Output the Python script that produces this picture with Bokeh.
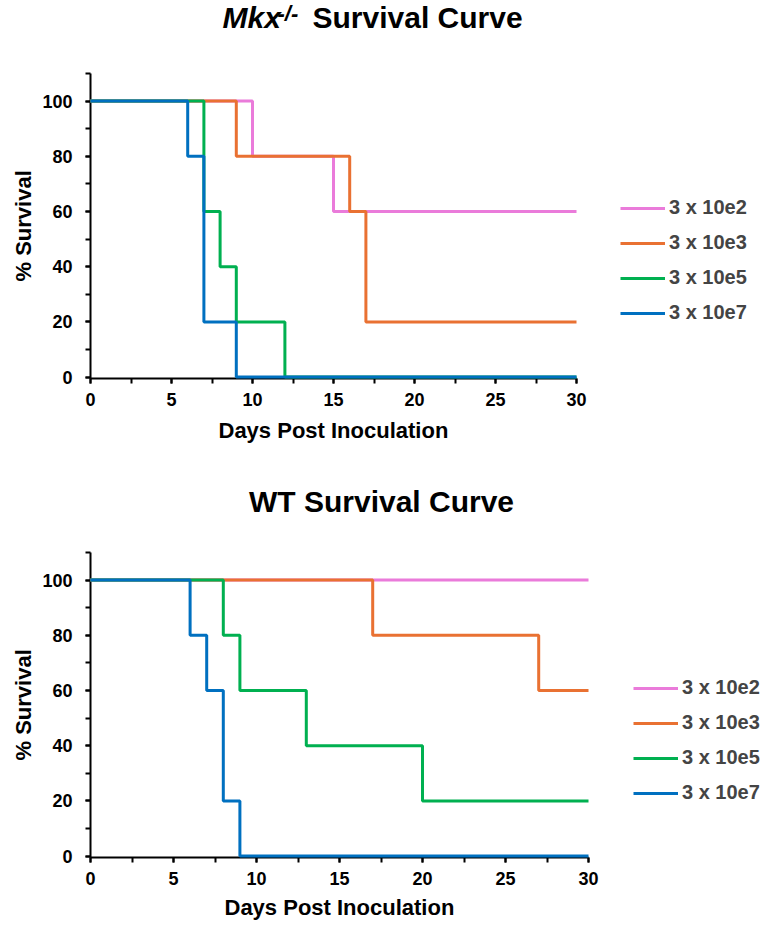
from bokeh.plotting import figure
from bokeh.models import Range1d, SingleIntervalTicker, Legend, LegendItem, Label, Title
from bokeh.layouts import column
from bokeh.embed import file_html
from bokeh.resources import INLINE

series_labels = ["3 x 10e2", "3 x 10e3", "3 x 10e5", "3 x 10e7"]
series_colors = ["#EA7BDA", "#E97132", "#00B050", "#0070C0"]

# Mkx-/- survival (step values hold from each day until the next)
mkx_e2_days = [0, 10, 15, 30]
mkx_e2_surv = [100, 80, 60, 60]
mkx_e3_days = [0, 9, 16, 17, 30]
mkx_e3_surv = [100, 80, 60, 20, 20]
mkx_e5_days = [0, 7, 8, 9, 12, 30]
mkx_e5_surv = [100, 60, 40, 20, 0, 0]
mkx_e7_days = [0, 6, 7, 9, 30]
mkx_e7_surv = [100, 80, 20, 0, 0]

# WT survival
wt_e2_days = [0, 30]
wt_e2_surv = [100, 100]
wt_e3_days = [0, 17, 27, 30]
wt_e3_surv = [100, 80, 60, 60]
wt_e5_days = [0, 8, 9, 13, 20, 30]
wt_e5_surv = [100, 80, 60, 40, 20, 20]
wt_e7_days = [0, 6, 7, 8, 9, 30]
wt_e7_surv = [100, 80, 60, 20, 0, 0]

x_ticks_major = 5
y_ticks_major = 20
x_max = 30
y_max = 110
x_label = "Days Post Inoculation"
y_label = "% Survival"

FONT = "Liberation Sans"
W = 761
LEFT = 90
PLOT_H = 305
Y_LO = -0.5


def make_fig(height, top, px30, days, survs, legend_loc, xlab_offset, xlab_standoff):
    frame_w = W - LEFT
    k = PLOT_H / (y_max - Y_LO)
    fig = figure(width=W, height=height, output_backend="svg", toolbar_location=None,
                 min_border_left=LEFT, min_border_right=0, min_border_top=0,
                 min_border_bottom=height - top - PLOT_H,
                 x_range=Range1d(0, x_max * frame_w / px30),
                 y_range=Range1d(Y_LO, y_max + top / k))
    fig.outline_line_color = None
    fig.grid.visible = False
    rends = []
    for d, s, c in zip(days, survs, series_colors):
        r = fig.step(d, s, mode="after", line_color=c, line_width=3)
        r.level = "overlay"
        rends.append(r)
    for ax in (fig.xaxis[0], fig.yaxis[0]):
        ax.axis_line_width = 2
        ax.axis_line_color = "black"
        ax.major_tick_line_width = 2
        ax.minor_tick_line_width = 2
        ax.major_tick_line_color = "black"
        ax.minor_tick_line_color = "black"
        ax.major_tick_out = 5
        ax.major_tick_in = 0
        ax.minor_tick_out = 5
        ax.minor_tick_in = 0
        ax.major_label_text_font = FONT
        ax.major_label_text_font_style = "bold"
        ax.major_label_text_font_size = "18px"
        ax.major_label_text_color = "black"
    fig.xaxis[0].ticker = SingleIntervalTicker(interval=x_ticks_major, num_minor_ticks=2)
    fig.yaxis[0].ticker = SingleIntervalTicker(interval=y_ticks_major, num_minor_ticks=2)
    fig.xaxis[0].bounds = (0, x_max)
    fig.yaxis[0].bounds = (Y_LO, y_max)
    fig.xaxis[0].major_label_standoff = 9
    fig.yaxis[0].major_label_standoff = 13
    tstyle = dict(text_font=FONT, text_font_style="bold", text_font_size="22px",
                  text_color="black", align="left")
    fig.add_layout(Title(text=x_label, offset=xlab_offset, standoff=xlab_standoff, **tstyle),
                   "below")
    fig.add_layout(Title(text=y_label, offset=97, standoff=7, **tstyle), "left")
    legend = Legend(items=[LegendItem(label=l, renderers=[r]) for l, r in zip(series_labels, rends)],
                    location=legend_loc, border_line_color=None, background_fill_alpha=0,
                    padding=0, margin=0, spacing=12, glyph_width=45, glyph_height=20,
                    label_height=20, label_standoff=4, label_text_font=FONT,
                    label_text_font_style="bold", label_text_font_size="20px")
    fig.add_layout(legend)
    return fig


H1 = 465
H2 = 927 - H1
p1 = make_fig(H1, 73, 486,
              [mkx_e2_days, mkx_e3_days, mkx_e5_days, mkx_e7_days],
              [mkx_e2_surv, mkx_e3_surv, mkx_e5_surv, mkx_e7_surv], (530, 54), 128, 14)
p2 = make_fig(H2, 552 - H1, 498,
              [wt_e2_days, wt_e3_days, wt_e5_days, wt_e7_days],
              [wt_e2_surv, wt_e3_surv, wt_e5_surv, wt_e7_surv], (543, 53), 134, 10)

common = dict(x_units="screen", y_units="screen", text_font=FONT, text_color="black",
              text_font_style="bold italic")
p1.add_layout(Label(x=132, y=345, text="Mkx", text_font_size="30px", **common))
p1.add_layout(Label(x=187, y=353, text="-/-", text_font_size="22px", **common))
common["text_font_style"] = "bold"
p1.add_layout(Label(x=222, y=345, text="Survival Curve", text_font_size="30px", **common))
p2.add_layout(Label(x=291, y=340, text="WT Survival Curve", text_font_size="30px",
                    text_align="center", **common))

layout = column(p1, p2, spacing=0)
open("out.html", "w").write(file_html(layout, INLINE))
